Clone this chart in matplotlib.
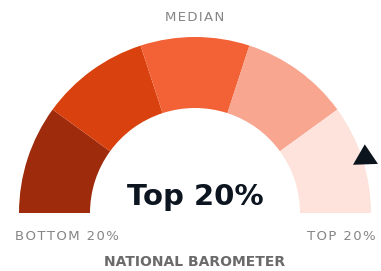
import matplotlib
matplotlib.use("Agg")
import matplotlib.pyplot as plt
from matplotlib.patches import Wedge, Polygon
import numpy as np

# Data
segment_edges = [0, 20, 40, 60, 80, 100]
segment_colors = ["#9e2b0c", "#d9410f", "#f26236", "#f8a690", "#fde3db"]
pointer_value = 90
center_label = "Top 20%"
top_label = "MEDIAN"
left_label = "BOTTOM 20%"
right_label = "TOP 20%"
bottom_label = "NATIONAL BAROMETER"

W, H = 381, 271
fig = plt.figure(figsize=(W / 100, H / 100), dpi=100)
ax = fig.add_axes([0, 0, 1, 1])
ax.set_xlim(0, W)
ax.set_ylim(H, 0)
ax.axis("off")

cx, cy = 195, 213
R_out, R_in = 176, 105

def val_to_deg(v):
    return 180 - 180 * v / 100.0

for i, col in enumerate(segment_colors):
    a0 = val_to_deg(segment_edges[i + 1])
    a1 = val_to_deg(segment_edges[i])
    w = Wedge((cx, cy), R_out, -a1, -a0, width=R_out - R_in, facecolor=col,
              edgecolor="none")
    ax.add_patch(w)

# pointer triangle (screen coords, y down)
ang = np.deg2rad(val_to_deg(pointer_value))
pc = np.array([cx, cy]) + np.array([np.cos(ang), -np.sin(ang)]) * 179
tilt = ang - np.deg2rad(16)
up = np.array([-np.sin(tilt), -np.cos(tilt)])
side = np.array([np.cos(tilt), -np.sin(tilt)])
half_base, height = 12.5, 20
p_apex = pc + up * height * 2 / 3
p_l = pc - up * height / 3 - side * half_base
p_r = pc - up * height / 3 + side * half_base
ax.add_patch(Polygon([p_l, p_r, p_apex], closed=True, facecolor="#0b131c",
                     edgecolor="none"))

def spaced(s):
    return "\u200a".join(s)

ax.text(cx, 205, center_label, ha="center", va="baseline", fontsize=21,
        fontweight="bold", color="#0d1520", family="DejaVu Sans")
ax.text(cx, 21, spaced(top_label), ha="center", va="baseline", fontsize=9.5,
        color="#858585", family="DejaVu Sans")
ax.text(15, 240, spaced(left_label), ha="left", va="baseline", fontsize=9.5,
        color="#858585", family="DejaVu Sans")
ax.text(376, 240, spaced(right_label), ha="right", va="baseline", fontsize=9.5,
        color="#858585", family="DejaVu Sans")
ax.text(cx, 266, bottom_label, ha="center", va="baseline", fontsize=10,
        fontweight="bold", color="#6a6a6a", family="DejaVu Sans")

fig.savefig("out.png", dpi=100, facecolor="white")
